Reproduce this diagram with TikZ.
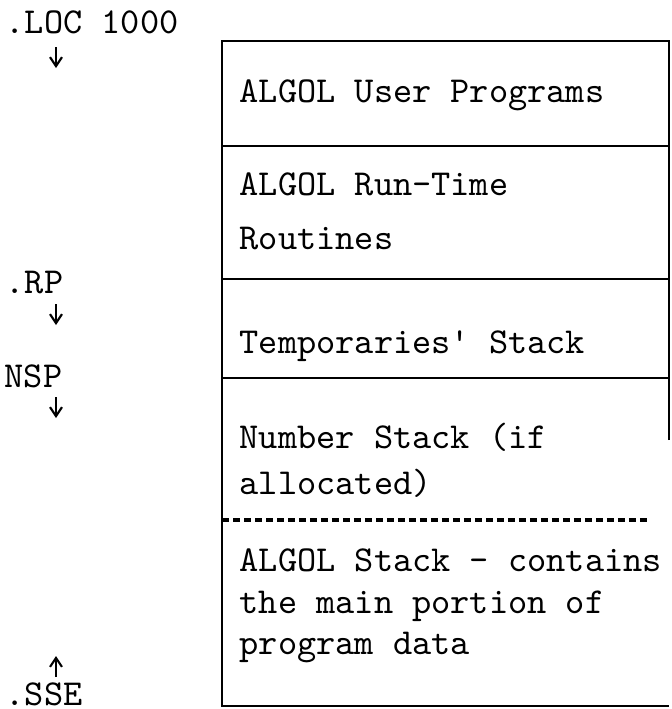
\documentclass[tikz,border=0pt]{standalone}
\usepackage{fontspec}
\usetikzlibrary{arrows.meta}

\begin{document}
\begin{tikzpicture}[
    x=0.1mm, y=-0.1mm,
    >={Straight Barb[length=0.9mm, width=1.2mm]},
    txt/.style={anchor=base west, inner sep=0pt,
                font=\fontsize{10.4}{12}\selectfont\ttfamily},
    wall/.style={line width=0.7pt},
    ptr/.style={->, line width=0.6pt}
  ]
  \useasboundingbox (0,0) rectangle (671,709);

  % Memory box
  \coordinate (tl) at (222,41);
  \coordinate (tr) at (669,41);
  \coordinate (bl) at (222,706);
  \coordinate (br) at (669,706);
  \draw[wall] (669,440) -- (tr) -- (tl) -- (bl) -- (br);

  % Section borders
  \foreach \y in {146, 279, 378} {
    \draw[wall] (222,\y) -- (669,\y);
  }
  \draw[line width=0.9pt, dash pattern=on 0.7mm off 0.4mm] (222,520) -- (648,520);

  % Section texts
  \node[txt] (user)  at (239,102) {ALGOL User Programs};
  \node[txt] (rtim1) at (239,195) {ALGOL Run-Time};
  \node[txt] (rtim2) at (239,249) {Routines};
  \node[txt] (temps) at (239,353) {Temporaries' Stack};
  \node[txt] (nums1) at (239,448) {Number Stack (if};
  \node[txt] (nums2) at (239,494) {allocated)};
  \node[txt] (alg1)  at (239,571) {ALGOL Stack - contains};
  \node[txt] (alg2)  at (239,613) {the main portion of};
  \node[txt] (alg3)  at (239,654) {program data};

  % Pointer labels
  \node[txt] (loc) at (5,33)  {.LOC 1000};
  \node[txt] (rp)  at (5,293) {.RP};
  \node[txt] (nsp) at (4,387) {NSP};
  \node[txt] (sse) at (5,705) {.SSE};

  % Pointer arrows
  \foreach \ya/\yb in {47/68, 304/325, 397/418, 677/656} {
    \draw[ptr] (56,\ya) -- (56,\yb);
  }
\end{tikzpicture}
\end{document}
